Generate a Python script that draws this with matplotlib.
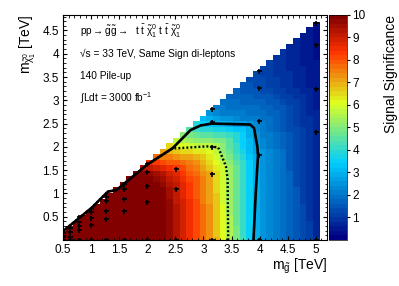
import numpy as np
import matplotlib
matplotlib.use('Agg')
import matplotlib.pyplot as plt
import matplotlib.tri as mtri
from matplotlib.colors import LinearSegmentedColormap, Normalize

plt.rcParams['font.family'] = ['Liberation Sans', 'DejaVu Sans']
plt.rcParams['mathtext.fontset'] = 'custom'
plt.rcParams['mathtext.rm'] = 'Liberation Sans'
plt.rcParams['mathtext.it'] = 'Liberation Sans:italic'
plt.rcParams['mathtext.bf'] = 'Liberation Sans:bold'
plt.rcParams['mathtext.default'] = 'regular'

# signal grid points (TeV) and significance
gluino_cols = [0.5, 0.63, 0.79, 1.0, 1.26, 1.58, 2.0, 2.51, 3.16, 3.98, 5.01]
lsp_per_col = [
    [0, 0.06, 0.15],
    [0, 0.06, 0.17, 0.26],
    [0, 0.21, 0.3, 0.39, 0.5],
    [0, 0.32, 0.47, 0.6, 0.66],
    [0, 0.45, 0.63, 0.84, 0.92],
    [0, 0.62, 0.87, 1.09, 1.2],
    [0, 0.81, 1.16, 1.46, 1.63],
    [0, 1.09, 1.52],
    [0, 1.41, 1.99, 2.53, 2.82],
    [0, 1.82, 2.55, 3.27, 3.62],
    [0, 2.32, 3.25, 4.18, 4.65],
]
sig_per_col = [
    [12, 12, 12],
    [12, 12, 12, 12],
    [12, 12, 12, 12, 12],
    [12, 12, 12, 12, 12],
    [12, 12, 12, 12, 12],
    [12, 12, 12, 12, 12],
    [11, 11, 10.5, 9.6, 8.6],
    [9.3, 9.2, 8.5],
    [7.2, 6.9, 5.8, 3.0, 2.1],
    [2.7, 2.6, 2.1, 1.4, 1.2],
    [0.8, 0.7, 0.5, 0.35, 0.3],
]

# contour lines
solid_x = [0.5, 1.0, 1.3, 1.45, 2.0, 2.45, 2.77, 2.95, 3.15, 3.83, 3.9, 3.96, 3.97, 3.93, 3.89]
solid_y = [0.19, 0.68, 1.04, 1.07, 1.62, 1.97, 2.36, 2.46, 2.5, 2.48, 2.4, 2.0, 1.8, 1.0, 0.0]
dotted_x = [0.5, 1.0, 1.3, 1.45, 2.0, 2.45, 2.53, 3.06, 3.26, 3.3, 3.4, 3.43, 3.44]
dotted_y = [0.19, 0.68, 1.04, 1.07, 1.62, 1.97, 1.97, 2.01, 1.99, 1.88, 1.58, 1.3, 0.0]

mg = np.concatenate([[g] * len(l) for g, l in zip(gluino_cols, lsp_per_col)])
ml = np.concatenate(lsp_per_col)
sig = np.concatenate(sig_per_col)

# ROOT style rainbow palette
stops = [0.0, 0.34, 0.61, 0.84, 1.0]
red = [0.0, 0.0, 0.87, 1.0, 0.51]
green = [0.0, 0.81, 1.0, 0.2, 0.0]
blue = [0.51, 1.0, 0.12, 0.0, 0.0]
cmap = LinearSegmentedColormap.from_list('rootpal', list(zip(stops, zip(red, green, blue))), N=50)

# interpolate the points onto a histogram grid, like TGraph2D does
tri = mtri.Triangulation(mg, ml)
interp = mtri.LinearTriInterpolator(tri, sig)
step = (gluino_cols[-1] - gluino_cols[0]) / 38
xc = gluino_cols[0] + step * np.arange(39)
yc = step * np.arange(41)
xe = np.append(xc - step / 2, xc[-1] + step / 2)
ye = np.append(yc - step / 2, yc[-1] + step / 2)
X, Y = np.meshgrid(np.clip(xc, 0.5 + 1e-6, gluino_cols[-1] - 1e-6), np.clip(yc, 1e-6, None))
Z = interp(X, Y)

fig = plt.figure(figsize=(3.99, 2.86), dpi=100)
ax = fig.add_axes([0.158, 0.161, 0.6617, 0.7878])
mesh = ax.pcolormesh(xe, ye, Z, cmap=cmap, norm=Normalize(0, 10), shading='flat')

ax.plot(solid_x, solid_y, color='black', lw=1.9)
ax.plot(dotted_x, dotted_y, color='black', lw=1.7, linestyle=(0, (0.8, 0.9)))
ax.plot(mg, ml, '+', color='black', ms=3.6, mew=1.2)

ax.set_xlim(0.5, 5.2)
ax.set_ylim(0, 4.84)
ax.set_xticks(np.arange(0.5, 5.01, 0.5))
ax.set_xticklabels(['%g' % v for v in np.arange(0.5, 5.01, 0.5)])
ax.set_yticks(np.arange(0.5, 4.51, 0.5))
ax.set_yticklabels(['%g' % v for v in np.arange(0.5, 4.51, 0.5)])
ax.set_xticks(np.arange(0.5, 5.2, 0.1), minor=True)
ax.set_yticks(np.arange(0.0, 4.84, 0.1), minor=True)
ax.tick_params(which='both', direction='in', top=True, right=True, labelsize=8.5)
ax.tick_params(which='major', length=3.2, width=0.8)
ax.tick_params(which='minor', length=1.8, width=0.6)
ax.tick_params(axis='x', pad=3)
ax.tick_params(axis='y', pad=3)

ax.set_xlabel(r'm$_{\tilde{g}}$ [TeV]', fontsize=10, loc='right')
ax.xaxis.set_label_coords(1.0, -0.075)
ax.set_ylabel(r'm$_{\tilde{\chi}^{0}_{1}}$ [TeV]', fontsize=10, loc='top')
ax.yaxis.set_label_coords(-0.095, 1.0)

ax.text(0.064, 0.925, r'pp$\rightarrow\tilde{g}\tilde{g}\rightarrow$  t $\bar{t}$ $\tilde{\chi}^{0}_{1}$ t $\bar{t}$ $\tilde{\chi}^{0}_{1}$',
        transform=ax.transAxes, fontsize=7.3, va='center')
ax.text(0.064, 0.827, '√s = 33 TeV, Same Sign di-leptons', transform=ax.transAxes, fontsize=7.3, va='center')
ax.text(0.064, 0.726, '140 Pile-up', transform=ax.transAxes, fontsize=7.3, va='center')
ax.text(0.064, 0.628, r'$\int$Ldt = 3000 fb$^{-1}$', transform=ax.transAxes, fontsize=7.3, va='center')

cax = fig.add_axes([0.8246, 0.161, 0.0461, 0.7878])
cb = fig.colorbar(mesh, cax=cax, ticks=range(1, 11))
cb.outline.set_linewidth(0.5)
cax.tick_params(direction='out', length=2.5, width=0.8, labelsize=8.5, pad=1)
fig.text(0.98, 0.948, 'Signal Significance', rotation=90, ha='center', va='top', fontsize=10)

fig.savefig('out.png', dpi=100)
